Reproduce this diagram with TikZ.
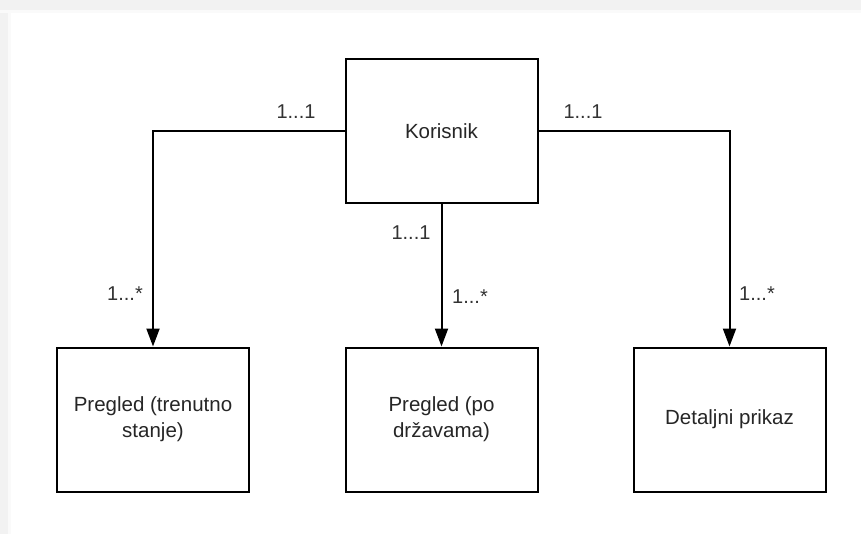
\documentclass[tikz,border=0pt]{standalone}
\usepackage{fontspec}
\setmainfont{Liberation Sans}
\usetikzlibrary{arrows.meta}
\begin{document}
\begin{tikzpicture}[x=1pt,y=-1pt,
  box/.style={draw=black,line width=2pt,fill=white,minimum width=192pt,minimum height=144pt,align=center,inner sep=0pt,font=\fontsize{20.5}{26}\selectfont,text=black!85},
  conn/.style={draw=black,line width=2pt,-{Triangle[length=18pt,width=13pt]}},
  lbl/.style={inner sep=0pt,font=\fontsize{20}{24}\selectfont,text=black!80}]
\useasboundingbox (0,0) rectangle (861,534);
\fill[white] (0,0) rectangle (861,534);
\fill[black!5] (0,0) rectangle (861,10);
\fill[black!5] (0,0) rectangle (8,534);
\fill[black!2] (0,10) rectangle (861,13);
\fill[black!2] (8,10) rectangle (11,534);
\node[box] (kor) at (441.5,131) {Korisnik};
\node[box] (p1) at (153,419.5) {Pregled (trenutno\\stanje)};
\node[box] (p2) at (441.5,419.5) {Pregled (po\\državama)};
\node[box] (p3) at (729.5,419.5) {Detaljni prikaz};
\draw[conn] (kor.west) -| (p1.north);
\draw[conn] (kor.south) -- (p2.north);
\draw[conn] (kor.east) -| (p3.north);
\node[lbl] (l1) at (296,112) {1...1};
\node[lbl] (l2) at (583,112) {1...1};
\node[lbl] (l3) at (411,233) {1...1};
\node[lbl] (l4) at (125,294) {1...*};
\node[lbl] (l5) at (470,297) {1...*};
\node[lbl] (l6) at (757,294) {1...*};
\end{tikzpicture}
\end{document}
